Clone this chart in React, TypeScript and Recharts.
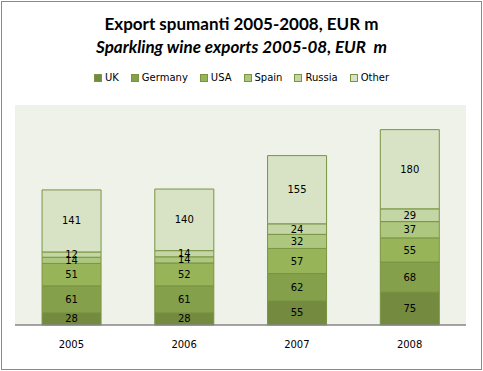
import React from 'react';
import { BarChart, Bar, XAxis, YAxis, CartesianGrid, LabelList } from 'recharts';

const years = ['2005', '2006', '2007', '2008'];
const uk = [28, 28, 55, 75];
const germany = [61, 61, 62, 68];
const usa = [51, 52, 57, 55];
const spain = [14, 14, 32, 37];
const russia = [12, 14, 24, 29];
const other = [141, 140, 155, 180];

const seriesNames = ['UK', 'Germany', 'USA', 'Spain', 'Russia', 'Other'];
const seriesValues = [uk, germany, usa, spain, russia, other];
const seriesColors = ['#738A3F', '#85A04B', '#98B459', '#AEC77F', '#C4D5A6', '#D7E3C4'];

const data = years.map((year, i) => {
  const row: Record<string, string | number> = { year };
  seriesNames.forEach((name, s) => {
    row[name] = seriesValues[s][i];
  });
  return row;
});

const labelFont = "Tahoma, 'DejaVu Sans', sans-serif";

export default function App() {
  return (
    <div style={{ position: 'absolute', left: 0, top: 0, width: 483, height: 371, background: '#fff' }}>
      <div
        style={{
          position: 'absolute',
          left: 1,
          top: 1,
          width: 479,
          height: 367,
          border: '1px solid #8a8a8a',
        }}
      />
      <div
        style={{
          position: 'absolute',
          left: 0,
          top: 12,
          width: 483,
          textAlign: 'center',
          fontFamily: "Lato, 'Open Sans', sans-serif",
          fontWeight: 'bold',
          fontSize: 17,
          lineHeight: '23px',
          color: '#000',
        }}
      >
        <div>Export spumanti 2005-2008, EUR m</div>
        <div style={{ fontStyle: 'italic' }}>Sparkling wine exports 2005-08, EUR&nbsp; m</div>
      </div>
      <div
        style={{
          position: 'absolute',
          left: 0,
          top: 71,
          width: 483,
          display: 'flex',
          justifyContent: 'center',
          fontFamily: labelFont,
          fontSize: 10,
          lineHeight: '14px',
          color: '#000',
        }}
      >
        {seriesNames.map((name, s) => (
          <div key={name} style={{ display: 'flex', alignItems: 'center', margin: '0 6px' }}>
            <span
              style={{
                display: 'inline-block',
                width: 6,
                height: 6,
                background: seriesColors[s],
                border: '1px solid #7A9443',
                marginRight: 3,
              }}
            />
            <span>{name}</span>
          </div>
        ))}
      </div>
      <div style={{ position: 'absolute', left: 0, top: 0 }}>
        <BarChart
          width={483}
          height={371}
          data={data}
          margin={{ top: 105, right: 17, bottom: 16, left: 15 }}
          barCategoryGap="24%"
        >
          <CartesianGrid horizontal={false} vertical={false} fill="#EFF2E8" />
          <XAxis
            dataKey="year"
            height={30}
            tickLine={false}
            axisLine={{ stroke: '#868686', strokeWidth: 1.5 }}
            tickMargin={10}
            tick={{ fill: '#000', fontSize: 10, fontFamily: labelFont }}
          />
          <YAxis hide domain={[0, 500]} />
          {seriesNames.map((name, s) => (
            <Bar
              key={name}
              dataKey={name}
              stackId="a"
              fill={seriesColors[s]}
              stroke="#7A9443"
              strokeWidth={1}
              isAnimationActive={false}
            >
              <LabelList
                dataKey={name}
                position="center"
                fill="#000"
                fontSize={10}
                fontFamily={labelFont}
              />
            </Bar>
          ))}
        </BarChart>
      </div>
    </div>
  );
}
